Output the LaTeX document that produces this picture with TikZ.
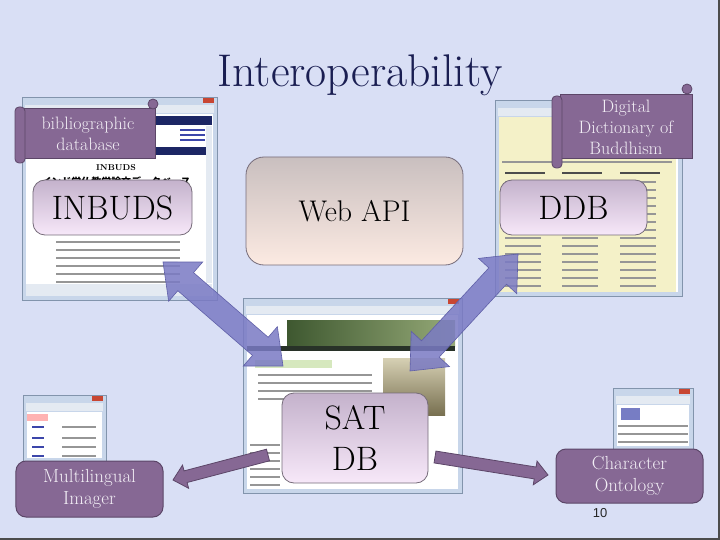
\documentclass[tikz,border=0pt]{standalone}
\usepackage{fontspec}
\newfontfamily\jpfont{Noto Sans CJK JP}
\newfontfamily\numfont{Liberation Sans}
\usetikzlibrary{calc}
\definecolor{slidebg}{RGB}{217,223,245}
\definecolor{titlenavy}{RGB}{26,30,82}
\definecolor{mauve}{RGB}{134,104,148}
\definecolor{mauvedark}{RGB}{92,70,104}
\definecolor{tagtext}{RGB}{242,238,245}
\definecolor{platetop}{RGB}{196,178,204}
\definecolor{platebot}{RGB}{247,232,249}
\definecolor{platerim}{RGB}{118,108,122}
\definecolor{webtop}{RGB}{201,191,191}
\definecolor{webbot}{RGB}{252,234,226}
\definecolor{arrowblue}{RGB}{122,122,196}
\definecolor{arrowrim}{RGB}{96,96,168}
\definecolor{frameblue}{RGB}{200,214,234}
\definecolor{framerim}{RGB}{130,148,172}
\definecolor{barfill}{RGB}{228,234,242}
\definecolor{closered}{RGB}{200,70,50}
\definecolor{navyband}{RGB}{28,38,100}
\definecolor{ddbpage}{RGB}{244,241,200}
\definecolor{satgreen}{RGB}{62,88,48}
\definecolor{satgreenlight}{RGB}{150,170,120}
\definecolor{satnav}{RGB}{40,50,40}
\definecolor{sathilite}{RGB}{214,232,190}
\definecolor{booklight}{RGB}{214,208,180}
\definecolor{bookdark}{RGB}{120,112,80}
\definecolor{txtgray}{RGB}{150,150,150}
\definecolor{linkblue}{RGB}{60,70,170}
\tikzset{
  winframe/.style={fill=frameblue, draw=framerim, line width=0.8bp},
  plate/.style={rounded corners=12bp, draw=platerim, line width=0.8bp,
    top color=platetop, bottom color=platebot, inner sep=0pt,
    align=center, font=\fontsize{34}{41}\selectfont},
  tagbox/.style={rounded corners=10bp, fill=mauve, draw=mauvedark,
    line width=1bp, text=tagtext, inner sep=0pt, align=center,
    font=\fontsize{19}{22}\selectfont},
  scrollbody/.style={fill=mauve, draw=mauvedark, line width=0.8bp},
  scrolltext/.style={text=tagtext, align=center, font=\fontsize{18}{21}\selectfont},
  fatarrow/.style={fill=arrowblue, draw=arrowrim, fill opacity=0.85, line width=0.6bp},
  thinarrow/.style={fill=mauve, draw=mauvedark, line width=0.8bp},
  txtline/.style={draw=txtgray, line width=1.2bp},
  linkline/.style={draw=linkblue, line width=1.2bp}
}
% a browser window, from its top left to its bottom right corner
\newcommand*{\browser}[3]{%
  \coordinate (#1nw) at #2;
  \coordinate (#1se) at #3;
  \filldraw[winframe] (#1nw) rectangle (#1se);
  \fill[barfill] ($(#1nw)+(3,8)$) rectangle ($(#1nw -| #1se)+(-3,16)$);
  \fill[white] ($(#1nw)+(4,17)$) rectangle ($(#1se)+(-4,-4)$);
  \fill[closered] ($(#1nw -| #1se)+(-14,1)$) rectangle ($(#1nw -| #1se)+(-3,6)$);}
% wide arrow with a head at both ends
\newcommand*{\bothways}[2]{%
  \coordinate (#1h) at ($(#1)!30bp!(#2)$);
  \coordinate (#2h) at ($(#2)!30bp!(#1)$);
  \filldraw[fatarrow] (#1) -- ($(#1h)!26bp!90:(#2)$) -- ($(#1h)!12bp!90:(#2)$)
    -- ($(#2h)!12bp!-90:(#1)$) -- ($(#2h)!26bp!-90:(#1)$) -- (#2)
    -- ($(#2h)!26bp!90:(#1)$) -- ($(#2h)!12bp!90:(#1)$)
    -- ($(#1h)!12bp!-90:(#2)$) -- ($(#1h)!26bp!-90:(#2)$) -- cycle;}
% narrow arrow from #1 to its tip #2
\newcommand*{\oneway}[2]{%
  \coordinate (#2h) at ($(#2)!13bp!(#1)$);
  \filldraw[thinarrow] ($(#1)!6bp!90:(#2)$) -- ($(#2h)!6bp!-90:(#1)$)
    -- ($(#2h)!12bp!-90:(#1)$) -- (#2) -- ($(#2h)!12bp!90:(#1)$)
    -- ($(#2h)!6bp!90:(#1)$) -- ($(#1)!6bp!-90:(#2)$) -- cycle;}

\begin{document}
\begin{tikzpicture}[x=1bp,y=-1bp]
\fill[slidebg] (0,0) rectangle (720,540);
\useasboundingbox (0,0) rectangle (720,540);
\draw[black!70, line width=2bp] (0,539) -- (719,539) -- (719,0);

\node[font=\fontsize{46}{50}\selectfont, text=titlenavy] (title) at (360,75) {Interoperability};

% screenshots
\browser{inbudswin}{(22,97)}{(217,300)}
\fill[navyband] (26,116) rectangle (212,125);
\fill[navyband] (26,147) rectangle (212,155);
\foreach \y in {130,135,140}
  \draw[linkline] (180,\y) -- (205,\y);
\node[font=\fontsize{8.5}{9}\selectfont\bfseries] (inbudshead) at (116,168) {INBUDS};
\node[font=\jpfont\fontsize{10}{11}\selectfont\bfseries] (inbudsjp) at (116,182) {インド学仏教学論文データベース};
\foreach \y in {242,250,...,282}
  \draw[txtline] (56,\y) -- (180,\y);
\fill[barfill] (206,126) rectangle (212,283);
\fill[barfill] (26,284) rectangle (212,296);

\browser{ddbwin}{(495,100)}{(682,296)}
\fill[ddbpage] (499,117) rectangle (676,292);
\draw[txtline] (502,162) -- (672,162);
\foreach \x in {505,562,620} {
  \draw[draw=black!70, line width=1.2bp] (\x,173) -- ++(40,0);
  \foreach \y in {182,190,...,290}
    \draw[txtline] (\x,\y) -- ++(36,0);
}

\browser{satwin}{(243,298)}{(462,493)}
\fill[left color=satgreen, right color=satgreenlight] (287,320) rectangle (455,346);
\fill[satnav] (247,346) rectangle (455,351);
\fill[sathilite] (255,360) rectangle (332,368);
\shade[top color=booklight, bottom color=bookdark] (383,358) rectangle (445,415);
\foreach \y in {375,383,...,399}
  \draw[txtline] (258,\y) -- (372,\y);
\foreach \y in {445,453,...,485}
  \draw[txtline] (250,\y) -- (280,\y);

\browser{imagerwin}{(23,395)}{(106,462)}
\fill[red!30] (27,414) rectangle (48,421);
\foreach \y in {427,438,447,456} {
  \draw[linkline] (32,\y) -- ++(12,0);
  \draw[txtline] (62,\y) -- ++(34,0);
}

\browser{ontowin}{(613,388)}{(693,450)}
\fill[linkblue!70] (621,408) rectangle (640,420);
\foreach \y in {426,434,442}
  \draw[txtline] (618,\y) -- (688,\y);

% scrolls
\filldraw[scrollbody] (22,108) rectangle (155,158);
\filldraw[scrollbody] (153,104) circle (5bp);
\filldraw[scrollbody, rounded corners=4bp] (15,107) rectangle (25,163);
\node[scrolltext] (biblabel) at (88,134) {bibliographic\\database};

\filldraw[scrollbody] (560,94) rectangle (692,158);
\filldraw[scrollbody] (687,89) circle (5bp);
\filldraw[scrollbody, rounded corners=4bp] (552,96) rectangle (562,168);
\node[scrolltext] (ddblabel) at (626,127) {Digital\\Dictionary of\\Buddhism};

% plates
\node[plate, minimum width=159bp, minimum height=55bp] (inbuds) at (112.5,207.5) {INBUDS};
\node[plate, minimum width=147bp, minimum height=55bp] (ddb) at (573.5,207.5) {DDB};
\node[plate, minimum width=146bp, minimum height=90bp] (satdb) at (355,438) {SAT\\DB};
\node[plate, rounded corners=18bp, top color=webtop, bottom color=webbot,
  minimum width=217bp, minimum height=108bp, font=\fontsize{30}{36}\selectfont] (webapi) at (354.5,211) {Web API};
\node[tagbox, minimum width=147bp, minimum height=56bp] (imager) at (89.5,489) {Multilingual\\Imager};
\node[tagbox, minimum width=147bp, minimum height=54bp] (onto) at (629.5,476) {Character\\Ontology};

% arrows
\coordinate (inbudsend) at (163,262);
\coordinate (satnw) at (283,366);
\coordinate (satne) at (410,371);
\coordinate (ddbsw) at (518,254);
\coordinate (satwest) at (268,455);
\coordinate (imagertip) at (173,480);
\coordinate (sateast) at (435,457);
\coordinate (ontotip) at (548,475);
\bothways{inbudsend}{satnw}
\bothways{satne}{ddbsw}
\oneway{satwest}{imagertip}
\oneway{sateast}{ontotip}

\node[font=\numfont\fontsize{13}{14}\selectfont, text=black!85] (pageno) at (600,513) {10};
\end{tikzpicture}
\end{document}
